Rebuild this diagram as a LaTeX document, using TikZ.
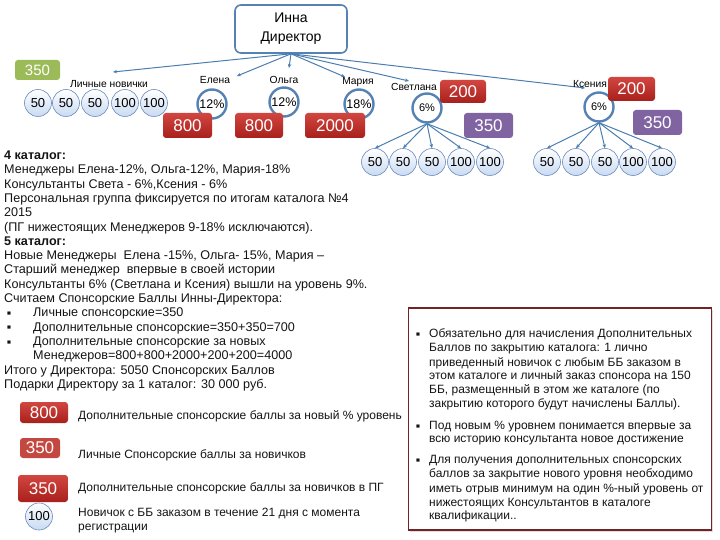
\documentclass[tikz,border=0pt]{standalone}
\usepackage{fontspec}
\setmainfont{Liberation Sans}
\usetikzlibrary{arrows.meta,shadows}
\definecolor{arrowblue}{RGB}{74,126,176}
\definecolor{ringblue}{RGB}{84,130,180}
\definecolor{circfill}{RGB}{200,218,242}
\definecolor{circline}{RGB}{110,140,190}
\definecolor{redtop}{RGB}{210,70,64}
\definecolor{redbot}{RGB}{168,32,28}
\definecolor{redbox2}{RGB}{196,72,66}
\definecolor{purplebox}{RGB}{128,100,162}
\definecolor{greenbox}{RGB}{155,187,89}
\definecolor{framered}{RGB}{115,35,35}
\definecolor{txt}{RGB}{20,20,20}
\tikzset{
  conn/.style={draw=arrowblue,line width=1pt,-{Stealth[length=4pt,width=3.5pt]}},
  dirbox/.style={draw=ringblue,line width=1.6pt,rounded corners=6pt,fill=white,minimum width=112pt,minimum height=48pt,align=center,font=\fontsize{14}{19}\selectfont},
  newbie/.style={circle,draw=circline,line width=0.6pt,top color=white,bottom color=circfill,shading angle=0,minimum size=27pt,inner sep=0pt,font=\fontsize{13}{14}\selectfont},
  ring/.style={circle,draw=ringblue,line width=2.4pt,fill=white,minimum size=29pt,inner sep=0pt,font=\fontsize{12.5}{13}\selectfont},
  pname/.style={font=\fontsize{10.3}{11}\selectfont,inner sep=0pt},
  valbox/.style={rounded corners=3pt,text=white,inner sep=0pt,font=\fontsize{17}{18}\selectfont},
  redval/.style={valbox,top color=redtop,bottom color=redbot},
  purpval/.style={valbox,fill=purplebox},
  txtline/.style={anchor=base west,inner sep=0pt,text=txt,font=\fontsize{12.6}{14}\selectfont},
  legtxt/.style={anchor=base west,inner sep=0pt,text=txt,font=\fontsize{12}{14}\selectfont},
  rtxt/.style={anchor=base west,inner sep=0pt,text=txt,font=\fontsize{12}{13}\selectfont},
  bul/.style={anchor=base west,inner sep=0pt,text=txt,font=\fontsize{6.5}{8}\selectfont},
}
\begin{document}
\begin{tikzpicture}[x=1pt,y=-1pt]
\useasboundingbox (0,0) rectangle (720,540);
% director
\node[dirbox] (dir) at (291,29) {Инна\\Директор};
% free ends
\coordinate (eLN) at (113,72);
\coordinate (eEl) at (237,76);
\coordinate (eOl) at (289,68);
\coordinate (eMa) at (345,77);
\coordinate (eSv) at (409,81);
\coordinate (eKs) at (585,88);
\foreach \e in {eLN,eEl,eOl,eMa,eSv,eKs} \draw[conn] (dir.south) -- (\e);
% green 350 and personal newbies
\node[valbox,fill=greenbox,minimum width=45pt,minimum height=20pt,font=\fontsize{15}{16}\selectfont] (g350) at (37.5,70) {350};
\node[pname] (ln) at (109,84) {Личные новички};
\node[newbie] (p1) at (38,103) {50};
\node[newbie] (p2) at (66,103) {50};
\node[newbie] (p3) at (95,103) {50};
\node[newbie] (p4) at (125,103) {100};
\node[newbie] (p5) at (154,103) {100};
% managers
\node[pname] (nEl) at (215,80) {Елена};
\node[pname] (nOl) at (284,80) {Ольга};
\node[pname] (nMa) at (358,82) {Мария};
\node[pname] (nSv) at (414,87) {Светлана};
\node[pname] (nKs) at (590,84) {Ксения};
\node[ring] (rEl) at (212,104) {12\%};
\node[ring] (rOl) at (284,102) {12\%};
\node[ring] (rMa) at (359,104) {18\%};
\node[ring,font=\fontsize{11}{12}\selectfont] (rSv) at (427,108) {6\%};
\node[ring,font=\fontsize{11}{12}\selectfont] (rKs) at (599,107) {6\%};
\node[redval,minimum width=49pt,minimum height=25pt] (bEl) at (187.5,125.5) {800};
\node[redval,minimum width=48pt,minimum height=25pt] (bOl) at (259,125.5) {800};
\node[redval,minimum width=60pt,minimum height=25pt] (bMa) at (335,125.5) {2000};
\node[redval,minimum width=46pt,minimum height=23pt] (bSv) at (463,91.5) {200};
\node[purpval,minimum width=49pt,minimum height=25pt] (uSv) at (488.5,125.5) {350};
\node[redval,minimum width=47pt,minimum height=24pt] (bKs) at (631.5,89) {200};
\node[purpval,minimum width=49pt,minimum height=25pt] (uKs) at (657.5,122.5) {350};
% children of Svetlana and Ksenia
\node[newbie] (s1) at (375,162) {50};
\node[newbie] (s2) at (403,162) {50};
\node[newbie] (s3) at (432,162) {50};
\node[newbie] (s4) at (461,162) {100};
\node[newbie] (s5) at (490,162) {100};
\node[newbie] (k1) at (547,162) {50};
\node[newbie] (k2) at (576,162) {50};
\node[newbie] (k3) at (605,162) {50};
\node[newbie] (k4) at (633,162) {100};
\node[newbie] (k5) at (662,162) {100};
\foreach \c in {s1,s2,s3,s4,s5} \draw[conn] (rSv.south) -- (\c.north);
\foreach \c in {k1,k2,k3,k4,k5} \draw[conn] (rKs.south) -- (\c.north);
% left text
\node[txtline,font=\fontsize{12.6}{14}\bfseries] (t1) at (4,159.5) {4 каталог:};
\node[txtline] (t2) at (4,173.8) {Менеджеры Елена-12\%, Ольга-12\%, Мария-18\%};
\node[txtline] (t3) at (4,188.1) {Консультанты Света - 6\%,Ксения - 6\%};
\node[txtline] (t4) at (4,202.4) {Персональная группа фиксируется по итогам каталога №4};
\node[txtline] (t5) at (4,216.7) {2015};
\node[txtline] (t6) at (4,231) {(ПГ нижестоящих Менеджеров 9-18\% исключаются).};
\node[txtline,font=\fontsize{12.6}{14}\bfseries] (t7) at (4,245.3) {5 каталог:};
\node[txtline] (t8) at (4,259.6) {Новые Менеджеры\ \ Елена -15\%, Ольга- 15\%, Мария –};
\node[txtline] (t9) at (4,273.9) {Старший менеджер\ \ впервые в своей истории};
\node[txtline] (t10) at (4,288.2) {Консультанты 6\% (Светлана и Ксения) вышли на уровень 9\%.};
\node[txtline] (t11) at (4,302.5) {Считаем Спонсорские Баллы Инны-Директора:};
\node[bul] (b1) at (7,315.5) {■};
\node[txtline] (t12) at (33,316.8) {Личные спонсорские=350};
\node[bul] (b2) at (7,329.8) {■};
\node[txtline] (t13) at (33,331.1) {Дополнительные спонсорские=350+350=700};
\node[bul] (b3) at (7,344.1) {■};
\node[txtline] (t14) at (33,345.4) {Дополнительные спонсорские за новых};
\node[txtline] (t15) at (33,359.7) {Менеджеров=800+800+2000+200+200=4000};
\node[txtline] (t16) at (4,374) {Итого у Директора: 5050 Спонсорских Баллов};
\node[txtline] (t17) at (4,388.3) {Подарки Директору за 1 каталог: 30 000 руб.};
% legend
\node[redval,minimum width=48pt,minimum height=21pt] (L1) at (44,412.5) {800};
\node[legtxt] (L1t) at (78,419) {Дополнительные спонсорские баллы за новый \% уровень};
\node[valbox,fill=redbox2,minimum width=40pt,minimum height=20pt] (L2) at (40,448) {350};
\node[legtxt] (L2t) at (78,458.5) {Личные Спонсорские баллы за новичков};
\node[redval,minimum width=50pt,minimum height=27pt] (L3) at (43,488.5) {350};
\node[legtxt] (L3t) at (78,491.5) {Дополнительные спонсорские баллы за новичков в ПГ};
\node[newbie,minimum size=27pt] (L4) at (39,516.5) {100};
\node[legtxt] (L4a) at (78,516) {Новичок с ББ заказом в течение 21 дня с момента};
\node[legtxt] (L4b) at (78,530) {регистрации};
% right box
\node[draw=framered,line width=1.4pt,fill=white,drop shadow={opacity=0.25,shadow xshift=1.5pt,shadow yshift=-1.5pt},minimum width=303pt,minimum height=222pt,inner sep=0pt] (rbox) at (560,419) {};
\node[bul] (r1b) at (416,336) {■};
\node[rtxt] (r1) at (429,337) {Обязательно для начисления Дополнительных};
\node[rtxt] (r2) at (429,351) {Баллов по закрытию каталога: 1 лично};
\node[rtxt] (r3) at (429,366) {приведенный новичок с любым ББ заказом в};
\node[rtxt] (r4) at (429,379.5) {этом каталоге и личный заказ спонсора на 150};
\node[rtxt] (r5) at (429,393.5) {ББ, размещенный в этом же каталоге (по};
\node[rtxt] (r6) at (429,407.5) {закрытию которого будут начислены Баллы).};
\node[bul] (r7b) at (416,428) {■};
\node[rtxt] (r7) at (429,429) {Под новым \% уровнем понимается впервые за};
\node[rtxt] (r8) at (429,442.5) {всю историю консультанта новое достижение};
\node[bul] (r9b) at (416,462) {■};
\node[rtxt] (r9) at (429,463) {Для получения дополнительных спонсорских};
\node[rtxt] (r10) at (429,477) {баллов за закрытие нового уровня необходимо};
\node[rtxt] (r11) at (429,492) {иметь отрыв минимум на один \%-ный уровень от};
\node[rtxt] (r12) at (429,506) {нижестоящих Консультантов в каталоге};
\node[rtxt] (r13) at (429,519.5) {квалификации..};
\end{tikzpicture}
\end{document}
